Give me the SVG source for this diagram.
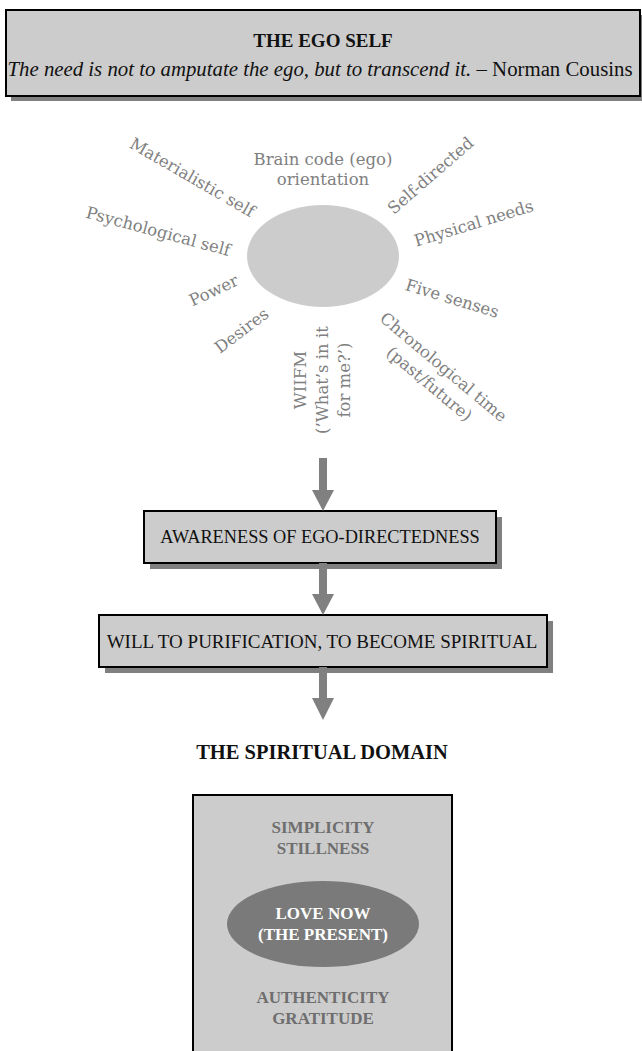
<svg xmlns="http://www.w3.org/2000/svg" width="642" height="1051" viewBox="0 0 642 1051">
<style>
.box{fill:#cccccc;stroke:#000;stroke-width:2}
.shadow{fill:#808080}
.lbl{font-family:"DejaVu Serif","Liberation Serif",serif;font-size:16.5px;fill:#808080;text-anchor:middle}
.boxtxt{font-family:"Liberation Serif",serif;font-size:18.3px;fill:#111;text-anchor:middle}
.sp{font-family:"Liberation Serif",serif;font-size:17px;font-weight:bold;fill:#6e6e6e;text-anchor:middle}
.arrow{fill:#808080}
</style>
<rect width="642" height="1051" fill="#fff"/>

<g id="ego-header">
  <rect class="shadow" x="11" y="15" width="634" height="86"/>
  <rect class="box" x="6" y="10" width="634" height="86"/>
  <text x="323" y="47" font-family="Liberation Serif,serif" font-size="19px" font-weight="bold" fill="#111" text-anchor="middle">THE EGO SELF</text>
  <text x="320" y="76" font-family="Liberation Serif,serif" font-size="20.8px" fill="#111" text-anchor="middle"><tspan font-style="italic">The need is not to amputate the ego, but to transcend it.</tspan> – Norman Cousins</text>
</g>

<g id="ego-core">
  <ellipse cx="323" cy="256" rx="76" ry="51" fill="#cccccc"/>
  <text class="lbl" x="323" y="165">Brain code (ego)</text>
  <text class="lbl" x="323" y="185">orientation</text>
  <text class="lbl" transform="translate(192,178) rotate(30)" y="5">Materialistic self</text>
  <text class="lbl" transform="translate(158,232) rotate(15)" y="5">Psychological self</text>
  <text class="lbl" transform="translate(214,291) rotate(-25)" y="5">Power</text>
  <text class="lbl" transform="translate(242,331) rotate(-37)" y="5">Desires</text>
  <text class="lbl" transform="translate(322,380) rotate(-90)"><tspan x="0" y="-16">WIIFM</tspan><tspan x="0" y="6">(’What’s in it</tspan><tspan x="0" y="28">for me?’)</tspan></text>
  <text class="lbl" transform="translate(431,176) rotate(-41)" y="5">Self-directed</text>
  <text class="lbl" transform="translate(474,224) rotate(-17)" y="5">Physical needs</text>
  <text class="lbl" transform="translate(452,299) rotate(17)" y="5">Five senses</text>
  <text class="lbl" transform="translate(436,376) rotate(40)"><tspan x="0" y="-6">Chronological time</tspan><tspan x="0" y="16">(past/future)</tspan></text>
</g>

<g id="awareness">
  <rect class="shadow" x="150" y="517" width="352" height="52"/>
  <rect class="box" x="144" y="511" width="352" height="52"/>
  <text class="boxtxt" x="320" y="543">AWARENESS OF EGO-DIRECTEDNESS</text>
</g>

<g id="will">
  <rect class="shadow" x="105" y="621" width="448" height="52"/>
  <rect class="box" x="99" y="615" width="448" height="52"/>
  <text class="boxtxt" x="322" y="648" style="font-size:19px">WILL TO PURIFICATION, TO BECOME SPIRITUAL</text>
</g>

<g id="spiritual-title">
  <text x="322" y="759" font-family="Liberation Serif,serif" font-size="20.5px" font-weight="bold" fill="#111" text-anchor="middle">THE SPIRITUAL DOMAIN</text>
</g>

<g id="spiritual-domain">
  <rect class="box" x="193" y="795" width="259" height="270"/>
  <text class="sp" x="323" y="833">SIMPLICITY</text>
  <text class="sp" x="323" y="854">STILLNESS</text>
  <ellipse cx="323" cy="924" rx="96" ry="43" fill="#7a7a7a"/>
  <text class="sp" x="323" y="919" style="fill:#fff">LOVE NOW</text>
  <text class="sp" x="323" y="940" style="fill:#fff">(THE PRESENT)</text>
  <text class="sp" x="323" y="1003">AUTHENTICITY</text>
  <text class="sp" x="323" y="1024">GRATITUDE</text>
</g>

<g id="connectors">
  <rect class="arrow" x="319" y="458" width="8" height="33"/>
  <polygon class="arrow" points="312,490 334,490 323,511"/>
  <rect class="arrow" x="319" y="563" width="8" height="32"/>
  <polygon class="arrow" points="312,594 334,594 323,615"/>
  <rect class="arrow" x="319" y="667" width="8" height="32"/>
  <polygon class="arrow" points="312,698 334,698 323,720"/>
</g>
</svg>
